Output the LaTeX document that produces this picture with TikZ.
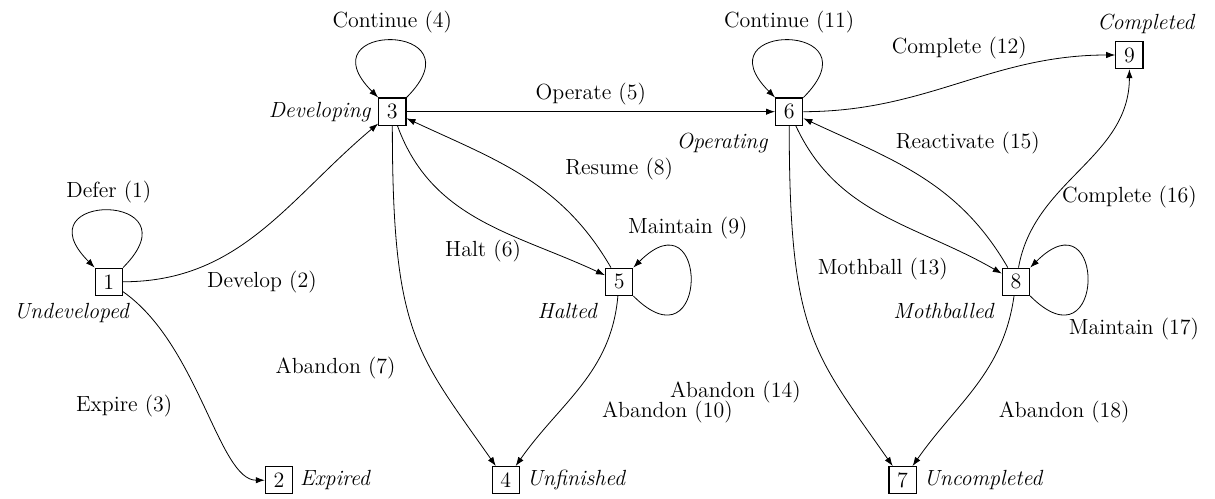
\documentclass[tikz,border=0pt]{standalone}
\usepackage{tikz}
\usetikzlibrary{arrows.meta,arrows,quotes,backgrounds}
\newcommand{\boxsize}{0.48cm}
\newcommand{\loopdist}{1.9cm}
\tikzset{
  statebox/.style={draw, semithick, minimum size=\boxsize, inner sep=0pt},
  trans/.style={->, >={Latex[length=4.5pt,width=3.2pt]}}
}

\begin{document}
\begin{tikzpicture}[font=\fontsize{11}{13}\selectfont]
\useasboundingbox (-1.92,-3.83) rectangle (19.51,4.97);
\node[statebox] (1) at (0.0, 0.0) [label={[xshift=-0.65cm]below:\textit{Undeveloped}}] {1};
\node[statebox] (2) at (3.0, -3.5) [label=right:\textit{Expired}] {2};
\node[statebox] (3) at (5.0, 3.0) [label=left:\textit{Developing}] {3};
\node[statebox] (4) at (7.0, -3.5) [label=right:\textit{Unfinished}] {4};
\node[statebox] (5) at (9.0, 0.0) [label=below left:\textit{Halted}] {5};
\node[statebox] (6) at (12.0, 3.0) [label=below left:\textit{Operating}] {6};
\node[statebox] (7) at (14.0, -3.5) [label=right:\textit{Uncompleted}] {7};
\node[statebox] (8) at (16.0, 0.0) [label=below left:\textit{Mothballed}] {8};
\node[statebox] (9) at (18.0, 4.0) [label={[xshift=0.3cm]above:\textit{Completed}}] {9};
%loops
\draw[trans] (1) to[out=45, in=135, distance=\loopdist] node[above] (t1) {Defer (1)} (1);
\draw[trans] (3) to[out=45, in=135, distance=\loopdist] node[above] (t4) {Continue (4)} (3);
\draw[trans] (6) to[out=45, in=135, distance=\loopdist] node[above] (t11) {Continue (11)} (6);
\draw[trans] (5) to[out=-45, in=45, distance=\loopdist] (5);
\draw[trans] (8) to[out=-45, in=45, distance=\loopdist] (8);
%1
\draw[trans] (1) to[out=0, in=-140] (3);
\draw[trans] (1) to[out=-35, in=180, in looseness=0.5] (2);
%3
\draw[trans] (3) -- node[above] (t5) {Operate (5)} (6);
\draw[trans] (3) to[out=-70, in=155] (5);
\draw[trans] (3) to[out=-90, in=125, out looseness=1.5] (4);
%5
\draw[trans] (5) to[out=120, in=-25] (3);
\draw[trans] (5) to[out=-95, in=55] (4);
%6
\draw[trans] (6) to[out=0, in=180] (9);
\draw[trans] (6) to[out=-65, in=150] (8);
\draw[trans] (6) to[out=-90, in=125, out looseness=1.5] (7);
%8
\draw[trans] (8) to[out=120, in=-25] (6);
\draw[trans] (8) to[out=80, in=-90] (9);
\draw[trans] (8) to[out=-98, in=55] (7);
%labels
\node (t2) at (2.7, 0.0) {Develop (2)};
\node (t3) at (0.27, -2.2) {Expire (3)};
\node (t6) at (6.6, 0.55) {Halt (6)};
\node (t7) at (4.0, -1.52) {Abandon (7)};
\node (t8) at (9.0, 1.98) {Resume (8)};
\node (t9) at (10.21, 0.94) {Maintain (9)};
\node (t10) at (9.85, -2.29) {Abandon (10)};
\node (t12) at (15.0, 4.13) {Complete (12)};
\node (t13) at (13.65, 0.22) {Mothball (13)};
\node (t14) at (11.05, -1.95) {Abandon (14)};
\node (t15) at (15.15, 2.44) {Reactivate (15)};
\node (t16) at (18.0, 1.5) {Complete (16)};
\node (t17) at (18.08, -0.84) {Maintain (17)};
\node (t18) at (16.85, -2.29) {Abandon (18)};
\end{tikzpicture}
\end{document}
